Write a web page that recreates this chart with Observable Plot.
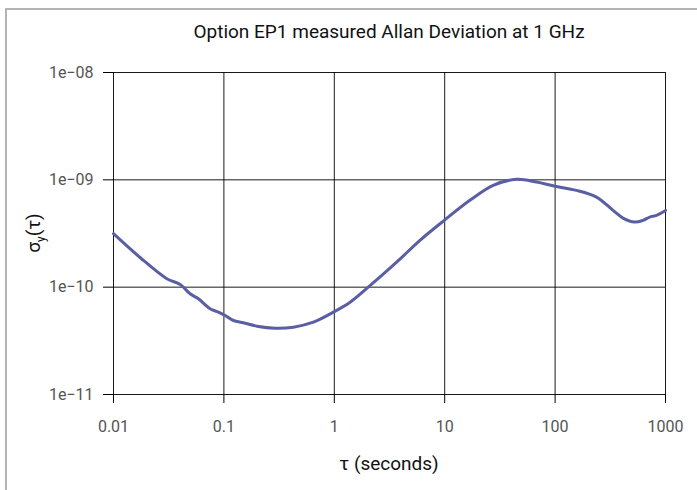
<!DOCTYPE html>
<html>
<head>
<meta charset="utf-8">
<script src="https://cdn.jsdelivr.net/npm/d3@7"></script>
<script src="https://cdn.jsdelivr.net/npm/@observablehq/plot@0.6"></script>
<style>
  html, body { margin: 0; padding: 0; background: #fff; }
  #wrap { position: relative; width: 697px; height: 490px; overflow: hidden; font-family: Roboto, "Liberation Sans", sans-serif; }
  #border { position: absolute; left: 5px; top: 8px; width: 720px; height: 520px; border-left: 2px solid #b4b4b4; border-top: 2px solid #b4b4b4; box-sizing: border-box; }
  #chart { position: absolute; left: 0; top: 0; }
  #title { position: absolute; left: 113px; width: 552px; top: 20px; text-align: center; font-size: 19px; color: #111; white-space: nowrap; }
  #ylabel { position: absolute; left: 36px; top: 233px; transform: translate(-50%, -50%) rotate(-90deg); font-size: 19px; color: #111; white-space: nowrap; line-height: 1.2; }
  #ylabel sub { font-size: 12px; }
  #xlabel { position: absolute; left: 113px; width: 552px; top: 452px; text-align: center; font-size: 19px; color: #111; white-space: nowrap; }
</style>
</head>
<body>
<div id="wrap">
  <div id="border"></div>
  <div id="chart"></div>
  <div id="title">Option EP1 measured Allan Deviation at 1 GHz</div>
  <div id="ylabel">σ<sub>y</sub>(τ)</div>
  <div id="xlabel">τ (seconds)</div>
</div>
<script>
const tau = [0.01, 0.0174, 0.0304, 0.0402, 0.0494, 0.0588, 0.075, 0.0892, 0.1026, 0.122, 0.150, 0.199, 0.291, 0.426, 0.646, 0.98, 1.39, 2.03, 3.67, 5.97, 9.9, 16.9, 27.5, 44.8, 67.9, 98, 156, 237, 335, 412, 526, 625, 719, 828, 1000];
const adev = [3.15e-10, 1.89e-10, 1.20e-10, 1.06e-10, 8.68e-11, 7.80e-11, 6.29e-11, 5.85e-11, 5.45e-11, 4.89e-11, 4.66e-11, 4.33e-11, 4.15e-11, 4.24e-11, 4.72e-11, 5.85e-11, 7.24e-11, 1.0e-10, 1.71e-10, 2.73e-10, 4.19e-10, 6.44e-10, 8.89e-10, 1.01e-9, 9.54e-10, 8.75e-10, 7.98e-10, 6.91e-10, 5.19e-10, 4.40e-10, 4.04e-10, 4.19e-10, 4.50e-10, 4.67e-10, 5.19e-10];

const xTicks = [0.01, 0.1, 1, 10, 100, 1000];
const xTickLabels = ["0.01", "0.1", "1", "10", "100", "1000"];
const yTicks = [1e-11, 1e-10, 1e-9, 1e-8];
const yTickLabels = ["1e−11", "1e−10", "1e−09", "1e−08"];

const data = tau.map((t, i) => ({tau: t, adev: adev[i]}));

const chart = Plot.plot({
  width: 697,
  height: 490,
  marginLeft: 113,
  marginRight: 32,
  marginTop: 72,
  marginBottom: 96,
  style: {fontFamily: "Roboto, 'Liberation Sans', sans-serif", fontSize: "16px", color: "#555", background: "transparent"},
  x: {type: "log", domain: [0.01, 1000]},
  y: {type: "log", domain: [1e-11, 1e-8]},
  marks: [
    Plot.gridX(xTicks, {stroke: "#000", strokeOpacity: 0.9, strokeWidth: 1}),
    Plot.gridY(yTicks, {stroke: "#000", strokeOpacity: 0.9, strokeWidth: 1}),
    Plot.axisX(xTicks, {tickSize: 9, tickPadding: 17, stroke: "#000", fill: "#555", label: null,
      tickFormat: d => xTickLabels[xTicks.indexOf(d)]}),
    Plot.axisY(yTicks, {tickSize: 10, tickPadding: 10, stroke: "#000", fill: "#555", label: null,
      tickFormat: d => yTickLabels[yTicks.indexOf(d)]}),
    Plot.line(data, {x: "tau", y: "adev", stroke: "#5a5ea2", strokeWidth: 3, curve: "catmull-rom"})
  ]
});
document.getElementById("chart").appendChild(chart);
</script>
</body>
</html>
